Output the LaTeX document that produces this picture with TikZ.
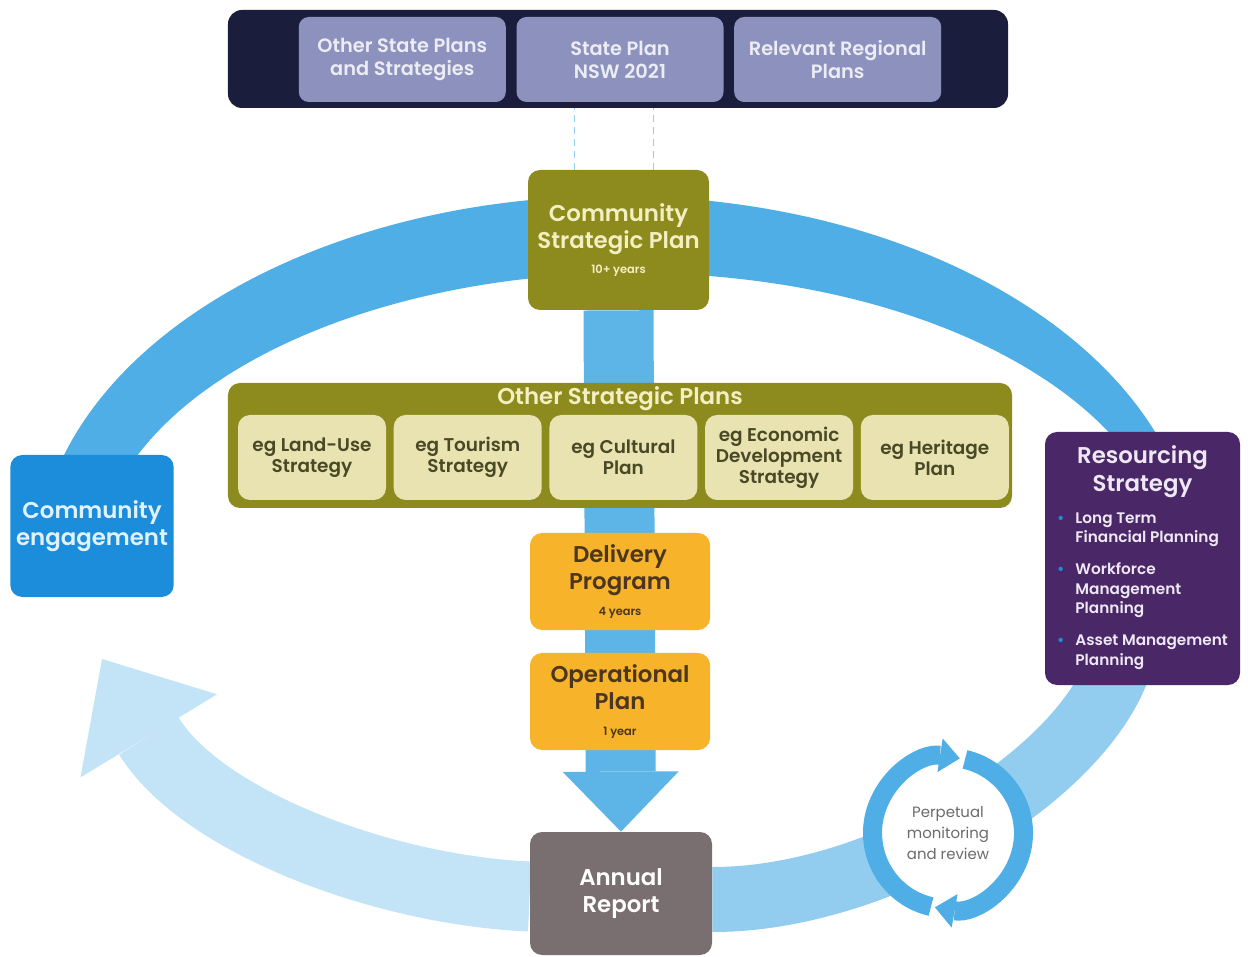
\documentclass[tikz,border=0pt]{standalone}
\usepackage{fontspec}
\setmainfont{Poppins}[BoldFont={Poppins SemiBold}]
\usetikzlibrary{positioning, chains, backgrounds, arrows.meta}

\definecolor{navy}{HTML}{1A1E3C}
\definecolor{lav}{HTML}{8C91BE}
\definecolor{lavtxt}{HTML}{ECECF4}
\definecolor{olive}{HTML}{8D8B1D}
\definecolor{cream}{HTML}{F4EFC2}
\definecolor{pale}{HTML}{E8E3B1}
\definecolor{paletxt}{HTML}{4A4926}
\definecolor{amber}{HTML}{F7B42B}
\definecolor{amtxt}{HTML}{4B3620}
\definecolor{taupe}{HTML}{7A6F70}
\definecolor{cblue}{HTML}{1C8DDA}
\definecolor{cbtxt}{HTML}{E0F2FF}
\definecolor{purp}{HTML}{4A2767}
\definecolor{ptxt}{HTML}{EEE8F4}
\definecolor{ring}{HTML}{50AEE6}
\definecolor{ringlt}{HTML}{92CCEF}
\definecolor{ringpl}{HTML}{C3E4F6}
\definecolor{shaft}{HTML}{5DB4E6}
\definecolor{greytxt}{HTML}{6B6B6B}

\newcommand{\bigtxt}{\fontsize{13}{15.5}\selectfont\bfseries}
\newcommand{\yrs}{\fontsize{6.5}{8}\selectfont\bfseries}
\newcommand{\dotb}{\textcolor{cblue}{\textbullet}}

\begin{document}
\begin{tikzpicture}[x=0.2mm, y=-0.2mm]

    \useasboundingbox (0,0) rectangle (1248,957); % pixel grid of the reference, y down

    % top row: state and regional plans
    \begin{scope}[every node/.style={rounded corners=2mm, align=center, font=\fontsize{11}{13}\selectfont\bfseries},
                  sp/.style={fill=lav, text=lavtxt, minimum width=41.4mm, minimum height=17mm}]
        \node [fill=navy, minimum width=156mm, minimum height=19.6mm, rounded corners=2.8mm] (bar) at (618,59) {};
        \node [sp] (nsw) at (620,59.5) {State Plan\\NSW 2021};
        \node [sp, left=2mm of nsw]  (osp) {Other State Plans\\and Strategies};
        \node [sp, right=2mm of nsw] (rrp) {Relevant Regional\\Plans};
    \end{scope}

    % main column and side boxes
    \begin{scope}[every node/.style={rounded corners=2.4mm, align=center, font=\bigtxt},
                  ol/.style={fill=olive, text=cream},
                  og/.style={fill=amber, text=amtxt, minimum width=36mm, minimum height=19.4mm}]
        \node [ol, minimum width=36.2mm, minimum height=28mm] (csp) at (618.5,240) {Community\\Strategic Plan\\[-1.5pt]{\yrs 10+ years}};
        \node [ol, minimum width=156.8mm, minimum height=25mm] (osc) at (620,445.5) {};
        \node [text=cream, inner sep=0pt] (osct) at (620,399) {Other Strategic Plans};
        \node [og] (dp) at (620,581.5) {Delivery\\Program\\[-1pt]{\yrs 4 years}};
        \node [og] (op) at (620,701.5) {Operational\\Plan\\[-1pt]{\yrs 1 year}};
        \node [fill=taupe, text=white, minimum width=36.4mm, minimum height=24.6mm] (ar) at (621,893.5) {Annual\\Report};
        \node [fill=cblue, text=cbtxt, minimum width=32.4mm, minimum height=28.4mm] (ce) at (92,526) {Community\\engagement};
        \node [fill=purp, text=ptxt, minimum width=39mm, minimum height=50.6mm] (rs) at (1142.5,558.5)
            {Resourcing\\Strategy\\[2mm]
             {\fontsize{8.7}{11.3}\selectfont
              \begin{tabular}{@{}l@{\hspace{2.2mm}}l@{}}
                \dotb & Long Term\\ & Financial Planning\\[6.5pt]
                \dotb & Workforce\\ & Management\\ & Planning\\[6.5pt]
                \dotb & Asset Management\\ & Planning
              \end{tabular}}};
    \end{scope}

    % examples inside other strategic plans
    \begin{scope}[start chain, node distance=1.4mm,
                  every node/.style={on chain, fill=pale, text=paletxt, rounded corners=2.4mm, align=center,
                                     minimum width=29.6mm, minimum height=17mm, font=\fontsize{10.5}{12}\selectfont\bfseries}]
        \node (lu) at (312,457.5) {eg Land-Use\\Strategy};
        \node (tou) {eg Tourism\\Strategy};
        \node (cul) {eg Cultural\\Plan};
        \node (eco) {eg Economic\\Development\\Strategy};
        \node (her) {eg Heritage\\Plan};
    \end{scope}

    % monitoring loop
    \node [circle, fill=white, inner sep=0pt, minimum size=26.4mm, align=center, text=greytxt,
           font=\fontsize{8.5}{12}\selectfont] (pmr) at (948,833) {Perpetual\\monitoring\\and review};
    \foreach \a/\b in {103/279, -77/100}
        \draw [ring, line width=3.8mm, -{Triangle[width=6.8mm, length=4mm, line width=0pt]}]
            ([shift={(\a:75.5)}]pmr.center) arc[start angle=\a, end angle=\b, radius=75.5];

    % dashed links from the state plan
    \foreach \dx in {-8.8mm, 7mm}
        \draw [ringlt, line width=0.35mm, dash pattern=on 1.4mm off 1mm] ([xshift=\dx]csp.north) -- ([xshift=\dx]csp.north |- bar.south);

    \begin{pgfonlayer}{background}
        \coordinate (mo) at (616,570); % outer edge of the cycle
        \coordinate (mi) at (633,570); % inner edge
        \coordinate (back) at (102,659);
        % the planning cycle, thicker at the top
        \fill [ring] ([shift={(190:580 and 374)}]mo) arc[start angle=190, end angle=370, x radius=580, y radius=374]
            -- ([shift={(370:537 and 297)}]mi) arc[start angle=370, end angle=190, x radius=537, y radius=297] -- cycle;
        \draw [ringlt, line width=13mm] (1125,640) .. controls (1110,760) and (890,900) .. ([yshift=-1.2mm]ar.east);
        \draw [ringpl, line width=14mm, -{Triangle[width=32mm, length=18mm, line width=0pt]}]
            ([yshift=-0.6mm]ar.west) .. controls (380,890) and (200,820) .. (back);
        % down the middle
        \draw [shaft, line width=14mm, -{Triangle[width=23.2mm, length=12mm, line width=0pt]}] (csp.south) -- (ar.north);
    \end{pgfonlayer}

\end{tikzpicture}
\end{document}
